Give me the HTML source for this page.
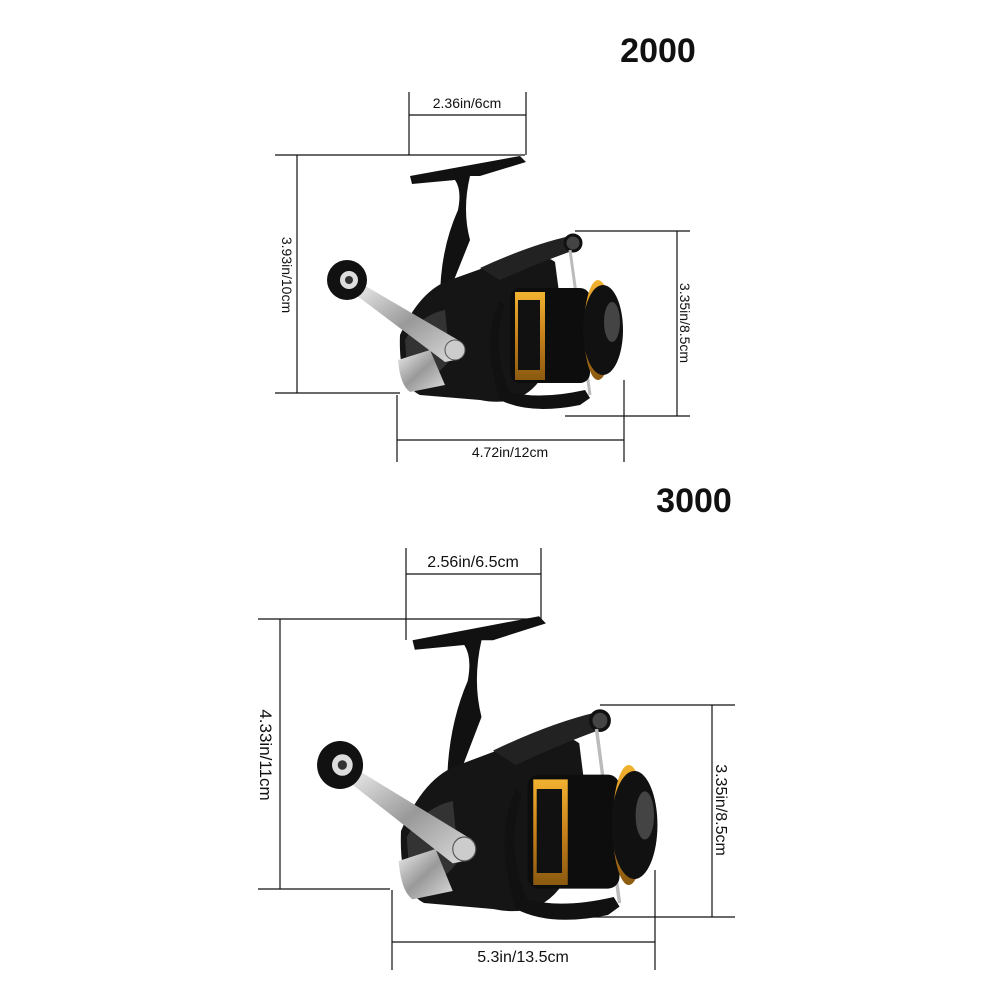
<!DOCTYPE html>
<html><head><meta charset="utf-8"><style>
html,body{margin:0;padding:0;background:#fff;}
svg{display:block;}
text{font-family:"Liberation Sans",Arial,sans-serif;fill:#111;}
</style></head><body>
<svg width="1000" height="1000" viewBox="0 0 1000 1000" xmlns="http://www.w3.org/2000/svg">
<defs>
<linearGradient id="silver" x1="0" y1="0" x2="1" y2="1">
<stop offset="0" stop-color="#eee"/><stop offset="0.5" stop-color="#999"/><stop offset="1" stop-color="#ddd"/></linearGradient>
<linearGradient id="gold" x1="0" y1="0" x2="0" y2="1">
<stop offset="0" stop-color="#f2b230"/><stop offset="0.5" stop-color="#c7801a"/><stop offset="1" stop-color="#8a5a10"/></linearGradient>
<g id="reel">
  <!-- T-bar -->
  <path d="M410 176 L520 156 L526 162 L480 176 L470 176 Q462 210 470 240 L450 290 L440 300 Q440 250 458 210 Q462 190 455 180 L412 184 Z" fill="#111"/>
  <!-- body -->
  <path d="M400 335 Q420 290 450 280 L500 262 Q540 250 555 262 L560 300 L540 380 Q520 408 480 400 L420 395 Q398 385 400 335 Z" fill="#151515"/>
  <!-- carbon side -->
  <path d="M405 340 Q420 315 445 310 L450 360 Q430 385 408 380 Z" fill="#333"/>
  <!-- silver plate -->
  <path d="M398 360 L430 350 L445 385 L410 392 Q400 385 398 360 Z" fill="url(#silver)"/>
  <!-- bail arm -->
  <path d="M480 268 Q530 245 570 236 L580 240 L575 250 Q540 262 500 280 Z" fill="#222"/>
  <circle cx="573" cy="243" r="8" fill="#444" stroke="#111" stroke-width="3"/>
  <path d="M500 300 Q480 340 500 400 Q530 415 580 405 L590 398 L585 390 Q540 400 510 392 Q490 350 505 305 Z" fill="#111"/>
  <line x1="570" y1="250" x2="590" y2="395" stroke="#bbb" stroke-width="3"/>
  <!-- spool -->
  <rect x="510" y="288" width="80" height="95" rx="10" fill="#0d0d0d"/>
  <rect x="515" y="292" width="30" height="88" fill="url(#gold)"/>
  <rect x="518" y="300" width="22" height="70" fill="#111"/>
  <ellipse cx="598" cy="330" rx="14" ry="50" fill="url(#gold)"/>
  <ellipse cx="603" cy="330" rx="20" ry="45" fill="#111"/>
  <ellipse cx="612" cy="322" rx="8" ry="20" fill="#444"/>
  <!-- handle -->
  <path d="M352 292 L362 284 L458 340 Q468 352 455 360 L445 362 Z" fill="url(#silver)"/>
  <circle cx="455" cy="350" r="10" fill="#ccc" stroke="#555"/>
  <circle cx="347" cy="280" r="20" fill="#111"/>
  <circle cx="349" cy="280" r="9" fill="#ddd"/>
  <circle cx="349" cy="280" r="4" fill="#333"/>
</g>
</defs>

<!-- ===== 2000 ===== -->
<text x="658" y="62" font-size="34" font-weight="bold" text-anchor="middle">2000</text>
<use href="#reel"/>
<g stroke="#111" stroke-width="1.2" fill="none">
  <line x1="409" y1="92" x2="409" y2="155"/>
  <line x1="526" y1="92" x2="526" y2="155"/>
  <line x1="409" y1="115" x2="526" y2="115"/>
  <line x1="275" y1="155" x2="525" y2="155"/>
  <line x1="275" y1="393" x2="400" y2="393"/>
  <line x1="297" y1="155" x2="297" y2="393"/>
  <line x1="575" y1="231" x2="690" y2="231"/>
  <line x1="565" y1="416" x2="690" y2="416"/>
  <line x1="677" y1="231" x2="677" y2="416"/>
  <line x1="397" y1="395" x2="397" y2="462"/>
  <line x1="624" y1="380" x2="624" y2="462"/>
  <line x1="397" y1="440" x2="624" y2="440"/>
</g>
<text x="467" y="108" font-size="14" text-anchor="middle">2.36in/6cm</text>
<text x="510" y="457" font-size="14" text-anchor="middle">4.72in/12cm</text>
<text transform="translate(282,275) rotate(90)" font-size="14" text-anchor="middle">3.93in/10cm</text>
<text transform="translate(680,323) rotate(90)" font-size="14" text-anchor="middle">3.35in/8.5cm</text>

<!-- ===== 3000 ===== -->
<text x="694" y="512" font-size="34" font-weight="bold" text-anchor="middle">3000</text>
<use href="#reel" transform="translate(-59,429) scale(1.15,1.2)"/>
<g stroke="#111" stroke-width="1.2" fill="none">
  <line x1="406" y1="548" x2="406" y2="640"/>
  <line x1="541" y1="548" x2="541" y2="622"/>
  <line x1="406" y1="574" x2="541" y2="574"/>
  <line x1="258" y1="619" x2="540" y2="619"/>
  <line x1="258" y1="889" x2="390" y2="889"/>
  <line x1="280" y1="619" x2="280" y2="889"/>
  <line x1="600" y1="705" x2="735" y2="705"/>
  <line x1="580" y1="917" x2="735" y2="917"/>
  <line x1="712" y1="705" x2="712" y2="917"/>
  <line x1="392" y1="890" x2="392" y2="970"/>
  <line x1="655" y1="870" x2="655" y2="970"/>
  <line x1="392" y1="942" x2="655" y2="942"/>
</g>
<text x="473" y="567" font-size="16" text-anchor="middle">2.56in/6.5cm</text>
<text x="523" y="962" font-size="16" text-anchor="middle">5.3in/13.5cm</text>
<text transform="translate(260,755) rotate(90)" font-size="17" text-anchor="middle">4.33in/11cm</text>
<text transform="translate(716,810) rotate(90)" font-size="16" text-anchor="middle">3.35in/8.5cm</text>
</svg>
</body></html>
